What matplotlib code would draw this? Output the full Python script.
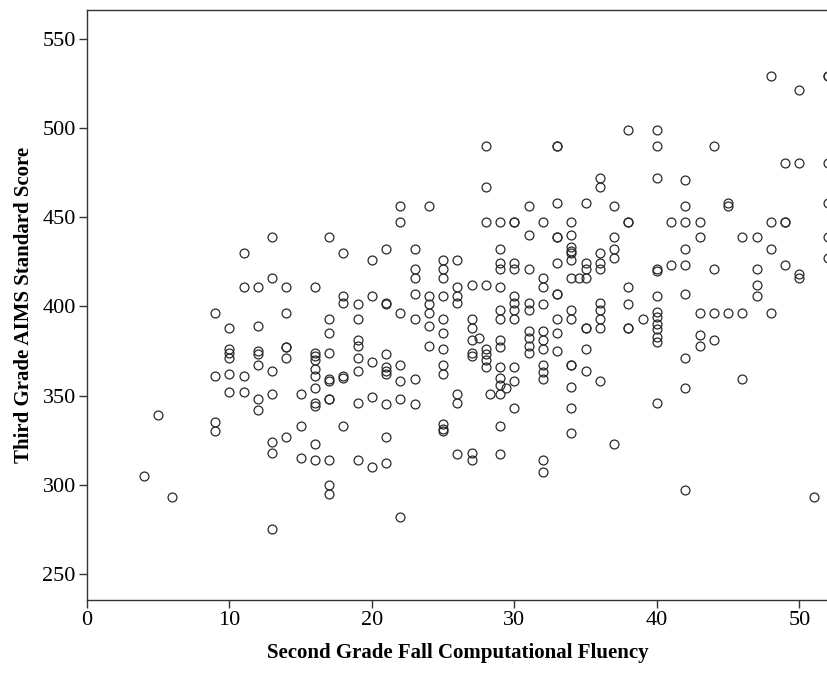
import matplotlib
matplotlib.use("Agg")
from matplotlib import pyplot as plt

# fluency score -> list of AIMS scores
x4 = [305]
x5 = [339]
x6 = [293]
x9 = [396, 361, 335, 330]
x10 = [388, 376, 374, 371, 362, 352]
x11 = [430, 411, 361, 352]
x12 = [411, 389, 375, 373, 367, 348, 342]
x13 = [439, 416, 364, 351, 324, 318, 275]
x14 = [411, 396, 377, 377, 371, 327]
x15 = [351, 333, 315]
x16 = [411, 374, 372, 370, 365, 361, 354, 346, 344, 323, 314]
x17 = [439, 393, 385, 374, 359, 358, 348, 348, 314, 300, 295]
x18 = [430, 406, 402, 361, 360, 333]
x19 = [401, 393, 381, 378, 371, 364, 346, 314]
x20 = [426, 406, 369, 349, 310]
x21 = [432, 402, 401, 373, 366, 364, 362, 345, 327, 312]
x22 = [456, 447, 396, 367, 358, 348, 282]
x23 = [432, 421, 416, 407, 393, 359, 345]
x24 = [456, 406, 401, 396, 389, 378]
x25 = [426, 421, 416, 406, 393, 385, 376, 367, 362, 334, 331, 330]
x26 = [426, 411, 406, 402, 351, 346, 317]
x27 = [412, 393, 388, 381, 374, 372, 318, 314]
x28 = [490, 467, 447, 412, 376, 373, 370, 366]
x29 = [447, 432, 424, 421, 411, 398, 393, 381, 377, 366, 360, 356, 351, 333, 317]
x30 = [447, 447, 424, 421, 406, 402, 398, 393, 366, 358, 343]
x31 = [456, 440, 421, 402, 398, 386, 382, 378, 374]
x32 = [447, 416, 411, 401, 386, 381, 376, 367, 363, 359, 314, 307]
x33 = [490, 490, 458, 439, 439, 424, 407, 407, 393, 385, 375]
x34 = [447, 440, 433, 431, 430, 426, 416, 398, 393, 367, 367, 355, 343, 329]
x35 = [458, 424, 421, 416, 388, 388, 376, 364]
x36 = [472, 467, 430, 424, 421, 402, 398, 393, 388, 358]
x37 = [456, 439, 432, 427, 323]
x38 = [499, 447, 447, 411, 401, 388, 388]
x39 = [393]
x40 = [499, 490, 472, 421, 420, 406, 397, 394, 390, 387, 383, 380, 346]
x41 = [447, 423]
x42 = [471, 456, 447, 432, 423, 407, 371, 354, 297]
x43 = [447, 439, 396, 384, 378]
x44 = [490, 421, 396, 381]
x45 = [458, 456, 396]
x46 = [439, 396, 359]
x47 = [439, 421, 412, 406]
x48 = [529, 447, 432, 396]
x49 = [480, 447, 447, 423]
x50 = [521, 480, 418, 416]
x51 = [293]
x52 = [529, 529, 480, 458, 439, 427]
# a few off-integer points
odd_x = [27.5, 28.3, 29.4, 34.5]
odd_y = [382, 351, 354, 416]

columns = {
    4: x4, 5: x5, 6: x6, 9: x9, 10: x10, 11: x11, 12: x12, 13: x13,
    14: x14, 15: x15, 16: x16, 17: x17, 18: x18, 19: x19, 20: x20,
    21: x21, 22: x22, 23: x23, 24: x24, 25: x25, 26: x26, 27: x27,
    28: x28, 29: x29, 30: x30, 31: x31, 32: x32, 33: x33, 34: x34,
    35: x35, 36: x36, 37: x37, 38: x38, 39: x39, 40: x40, 41: x41,
    42: x42, 43: x43, 44: x44, 45: x45, 46: x46, 47: x47, 48: x48,
    49: x49, 50: x50, 51: x51, 52: x52,
}

xs, ys = [], []
for k, vals in columns.items():
    xs += [k] * len(vals)
    ys += vals
xs += odd_x
ys += odd_y

plt.rcParams["font.family"] = ["Liberation Serif", "DejaVu Serif"]

fig = plt.figure(figsize=(8.28, 6.75), dpi=100)
# plot area runs to the right edge of the image (points at x=52 get clipped)
ax = fig.add_axes([0.105, 0.111, 0.895, 0.874])

ax.plot(xs, ys, linestyle="none", marker="o", markersize=6.4,
        markerfacecolor="none", markeredgecolor="#2a2a2a", markeredgewidth=0.9)

ax.set_xlim(0, 52)
ax.set_ylim(235.4, 565.9)
ax.set_xticks([0, 10, 20, 30, 40, 50])
ax.set_yticks([250, 300, 350, 400, 450, 500, 550])
ax.tick_params(direction="out", length=6, width=1, colors="#333333",
               labelsize=16, labelcolor="black", pad=2)
for s in ax.spines.values():
    s.set_color("#333333")
    s.set_linewidth(1)
ax.spines["right"].set_visible(False)

ax.set_xlabel("Second Grade Fall Computational Fluency", fontsize=15,
              fontweight="bold", labelpad=9)
ax.set_ylabel("Third Grade AIMS Standard Score", fontsize=15,
              fontweight="bold", labelpad=6)

fig.savefig("out.png", dpi=100)
